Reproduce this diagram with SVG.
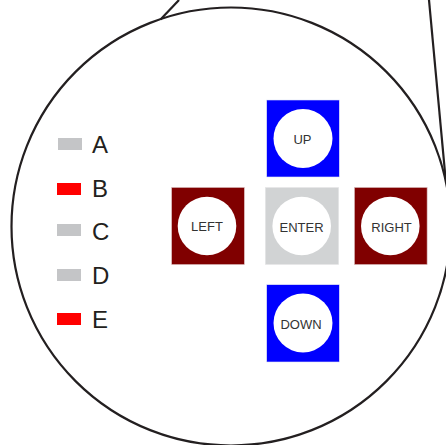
<svg xmlns="http://www.w3.org/2000/svg" width="446" height="445" viewBox="0 0 446 445">
<style>
.o{fill:none;stroke:#231f20;stroke-width:2.200}
.g{fill:#c4c5c7}.r{fill:#f00}.b{fill:#00f;stroke:#dfe3f5;stroke-width:.6}.m{fill:#800000;stroke:#d8b8b8;stroke-width:.6}.e{fill:#d1d3d4;stroke:#e6e7e8;stroke-width:.6}
.c{fill:#fff}
.k{font-family:"Liberation Sans",Arial,sans-serif;font-size:13px;fill:#333;text-anchor:middle}
.l{font-family:"Liberation Sans",Arial,sans-serif;font-size:24px;fill:#231f20}
</style>
<g id="connectors">
<path class="o" d="M160.500 19.500L179 0"/>
<path class="o" d="M429 0L445.500 178"/>
</g>
<g id="outline"><ellipse class="o" cx="231" cy="226.500" rx="219.500" ry="219"/></g>
<g id="legend-a"><rect class="g" x="58" y="138" width="24" height="12"/><text class="l" x="92" y="153">A</text></g>
<g id="legend-b"><rect class="r" x="57" y="183" width="24" height="12"/><text class="l" x="92" y="197">B</text></g>
<g id="legend-c"><rect class="g" x="57" y="224" width="24" height="12"/><text class="l" x="92" y="240">C</text></g>
<g id="legend-d"><rect class="g" x="57" y="269" width="24" height="12"/><text class="l" x="92" y="284">D</text></g>
<g id="legend-e"><rect class="r" x="57" y="313" width="24" height="12"/><text class="l" x="92" y="328">E</text></g>
<g id="up"><rect class="b" x="266.700" y="100" width="72.600" height="77"/><circle class="c" cx="303" cy="138.500" r="29.500"/><text class="k" x="302.500" y="144">UP</text></g>
<g id="left"><rect class="m" x="171.700" y="187.500" width="72.600" height="77"/><circle class="c" cx="207" cy="226" r="29.300"/><text class="k" x="207" y="231">LEFT</text></g>
<g id="enter"><rect class="e" x="265.300" y="187.500" width="73.400" height="77"/><circle class="c" cx="301.700" cy="226" r="29.300"/><text class="k" x="301.500" y="232">ENTER</text></g>
<g id="right"><rect class="m" x="354.500" y="187.500" width="72.600" height="77"/><circle class="c" cx="390.300" cy="226" r="29.300"/><text class="k" x="391.500" y="232">RIGHT</text></g>
<g id="down"><rect class="b" x="266.700" y="284.700" width="72.600" height="77.300"/><circle class="c" cx="303" cy="323" r="29.500"/><text class="k" x="301" y="329">DOWN</text></g>
</svg>
